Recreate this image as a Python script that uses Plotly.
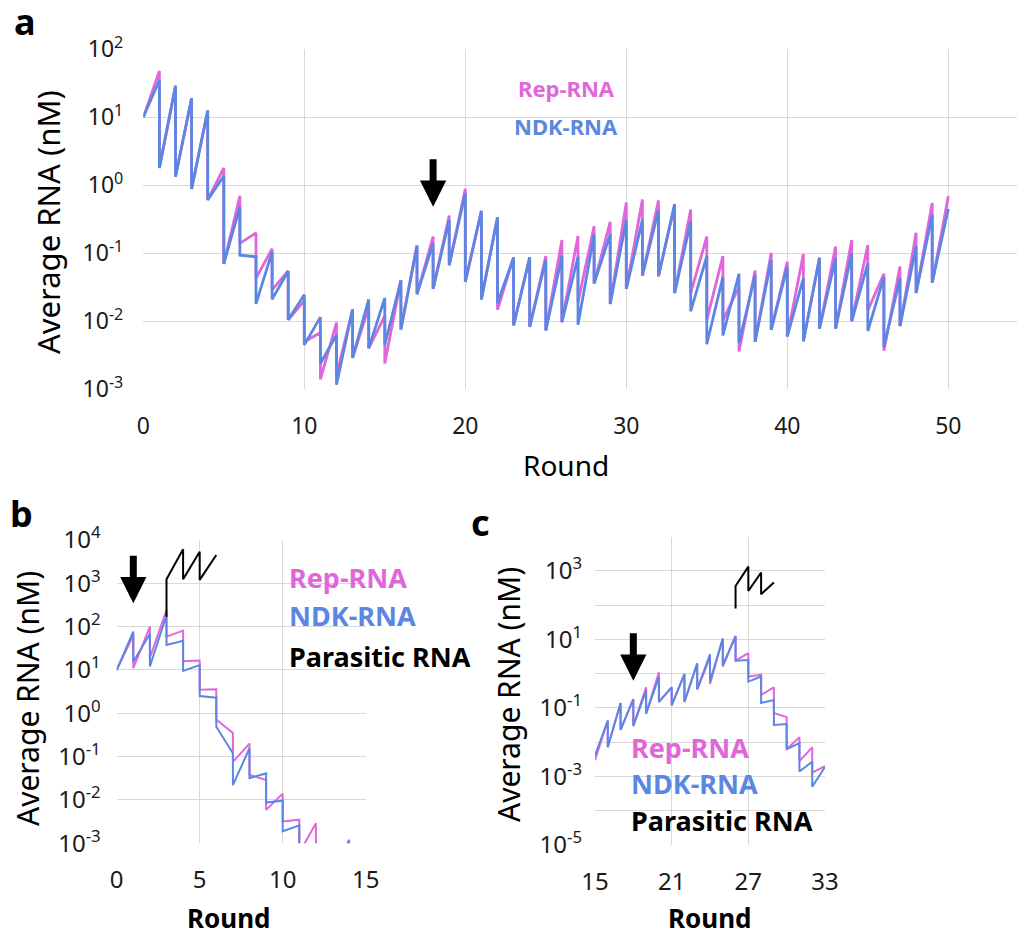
import plotly.graph_objects as go

# ---------------- data ----------------
# Panel a: rounds 1..50, value at end of round (peak) and after dilution (drop)
a_start = 10
a_rounds = list(range(1, 51))
a_rep_peak = [48, 29, 19, 12.6, 1.8, 0.70, 0.2, 0.117, 0.055, 0.02,
              0.0068, 0.0096, 0.015, 0.016, 0.012, 0.04, 0.13, 0.176, 0.36, 0.89,
              0.42, 0.34, 0.087, 0.087, 0.091, 0.157, 0.18, 0.25, 0.29, 0.56,
              0.62, 0.6, 0.51, 0.44, 0.176, 0.091, 0.032, 0.056, 0.102, 0.075,
              0.098, 0.087, 0.126, 0.157, 0.132, 0.05, 0.064, 0.2, 0.55, 0.69]
a_rep_drop = [1.8, 1.34, 0.88, 0.61, 0.07, 0.14, 0.043, 0.029, 0.0105, 0.005,
              0.0014, 0.0016, 0.0029, 0.004, 0.0024, 0.0076, 0.025, 0.03, 0.067, 0.038,
              0.021, 0.0148, 0.0087, 0.0083, 0.0073, 0.0097, 0.019, 0.036, 0.018, 0.03,
              0.047, 0.046, 0.026, 0.026, 0.0105, 0.0103, 0.0036, 0.005, 0.0075, 0.006,
              0.0051, 0.0078, 0.0078, 0.01, 0.0145, 0.0037, 0.0085, 0.026, 0.037]
a_ndk_peak = [35, 29, 19, 12.6, 1.37, 0.48, 0.089, 0.105, 0.055, 0.0245,
              0.0115, 0.0063, 0.015, 0.021, 0.022, 0.04, 0.13, 0.14, 0.31, 0.77,
              0.42, 0.34, 0.087, 0.087, 0.08, 0.091, 0.089, 0.19, 0.19, 0.31,
              0.31, 0.43, 0.53, 0.29, 0.091, 0.045, 0.05, 0.048, 0.08, 0.063,
              0.043, 0.085, 0.085, 0.1, 0.071, 0.045, 0.043, 0.126, 0.37, 0.45]
a_ndk_drop = [1.8, 1.34, 0.88, 0.61, 0.07, 0.094, 0.018, 0.021, 0.0105, 0.0045,
              0.0024, 0.00117, 0.0029, 0.004, 0.0045, 0.0076, 0.025, 0.03, 0.067, 0.038,
              0.021, 0.0186, 0.0087, 0.0083, 0.0073, 0.0097, 0.0089, 0.036, 0.018, 0.03,
              0.047, 0.046, 0.026, 0.014, 0.0046, 0.0062, 0.0048, 0.005, 0.0075, 0.006,
              0.0051, 0.0078, 0.0078, 0.01, 0.0072, 0.0042, 0.0085, 0.026, 0.037]

# Panel b
b_start = 10
b_rep_rounds = list(range(1, 13))
b_rep_peak = [63, 100, 240, 81, 16.5, 3.6, 0.35, 0.2, 0.029, 0.014, 0.0035, 0.0029]
b_rep_drop = [11, 19, 59, 16, 3.5, 0.72, 0.076, 0.038, 0.0059, 0.0032, 0.0006, 0.0002]
b_ndk_rounds = list(range(1, 15))
b_ndk_peak = [77, 68, 185, 47, 13, 2.3, 0.12, 0.156, 0.041, 0.0096, 0.0026, 0.0002, 0.0003, 0.0012]
b_ndk_drop = [15.5, 12, 38, 9.5, 2.5, 0.49, 0.022, 0.032, 0.0087, 0.0019, 0.0002, 0.0001, 0.0002, 0.0002]
b_para_rounds = [3, 3, 4, 4, 5, 5, 6]
b_para_values = [170, 1240, 6100, 1240, 5370, 1200, 4500]

# Panel c
c_first_round = 15
c_rep_start = 0.003
c_ndk_start = 0.0041
c_rounds = list(range(16, 34))
c_rep_peak = [0.043, 0.14, 0.18, 0.4, 1.1, 0.4, 0.98, 2.0, 3.0, 10.7, 12.6, 4.0, 0.93, 0.4, 0.054, 0.014, 0.0071, 0.002]
c_rep_drop = [0.0071, 0.023, 0.03, 0.068, 0.15, 0.12, 0.15, 0.35, 0.5, 1.6, 2.4, 0.83, 0.24, 0.071, 0.0063, 0.0028, 0.0013]
c_ndk_peak = [0.043, 0.14, 0.18, 0.32, 0.8, 0.4, 0.98, 2.0, 3.7, 10.7, 12.6, 2.5, 0.83, 0.17, 0.034, 0.0094, 0.0027, 0.0019]
c_ndk_drop = [0.0071, 0.023, 0.03, 0.068, 0.15, 0.12, 0.15, 0.35, 0.59, 1.78, 2.4, 0.59, 0.14, 0.032, 0.0063, 0.0014, 0.0005]
c_para_rounds = [26, 26, 27, 27, 28, 28, 29]
c_para_values = [80, 365, 1340, 260, 900, 210, 460]

a_xticks = [0, 10, 20, 30, 40, 50]
b_xticks = [0, 5, 10, 15]
c_xticks = [15, 21, 27, 33]

PINK = "#E066DA"
BLUE = "#5B86E2"
GRID = "#D9D9D9"
FONT = "Noto Sans"


def sawtooth(start_round, start_val, rounds, peaks, drops):
    xs, ys = [start_round], [start_val]
    for i, r in enumerate(rounds):
        xs.append(r)
        ys.append(peaks[i])
        if i < len(drops):
            xs.append(r)
            ys.append(drops[i])
    return xs, ys


fig = go.Figure()

# panel a
x, y = sawtooth(0, a_start, a_rounds, a_rep_peak, a_rep_drop)
fig.add_trace(go.Scatter(x=x, y=y, mode="lines", line=dict(color=PINK, width=2.8), xaxis="x", yaxis="y"))
x, y = sawtooth(0, a_start, a_rounds, a_ndk_peak, a_ndk_drop)
fig.add_trace(go.Scatter(x=x, y=y, mode="lines", line=dict(color=BLUE, width=2.8), xaxis="x", yaxis="y"))

# panel b
x, y = sawtooth(0, b_start, b_rep_rounds, b_rep_peak, b_rep_drop)
fig.add_trace(go.Scatter(x=x, y=y, mode="lines", line=dict(color=PINK, width=2), xaxis="x2", yaxis="y2"))
x, y = sawtooth(0, b_start, b_ndk_rounds, b_ndk_peak, b_ndk_drop)
fig.add_trace(go.Scatter(x=x, y=y, mode="lines", line=dict(color=BLUE, width=2), xaxis="x2", yaxis="y2"))
fig.add_trace(go.Scatter(x=b_para_rounds, y=b_para_values, mode="lines", line=dict(color="black", width=2), xaxis="x2", yaxis="y2"))

# panel c
x, y = sawtooth(c_first_round, c_rep_start, c_rounds, c_rep_peak, c_rep_drop)
fig.add_trace(go.Scatter(x=x, y=y, mode="lines", line=dict(color=PINK, width=2), xaxis="x3", yaxis="y3"))
x, y = sawtooth(c_first_round, c_ndk_start, c_rounds, c_ndk_peak, c_ndk_drop)
fig.add_trace(go.Scatter(x=x, y=y, mode="lines", line=dict(color=BLUE, width=2), xaxis="x3", yaxis="y3"))
fig.add_trace(go.Scatter(x=c_para_rounds, y=c_para_values, mode="lines", line=dict(color="black", width=2), xaxis="x3", yaxis="y3"))


def pow_label(e, show=True):
    return f"10<sup>{e}</sup>" if show else ""


a_exps = list(range(-3, 3))
b_exps = list(range(-3, 5))
c_exps = list(range(-5, 5))

# the page body adds an 8px offset; figure placed so page pixels match the target
OFF = 8
W, H = 1025 - OFF, 936 - OFF


def xd(p0, p1):
    return [(p0 - OFF) / W, (p1 - OFF) / W]


def yd(top, bottom):
    return [1 - (bottom - OFF) / H, 1 - (top - OFF) / H]


common = dict(showgrid=True, gridcolor=GRID, gridwidth=1.3, zeroline=False, showline=False,
              ticks="", color="#1a1a1a", automargin=False)

fig.update_layout(
    width=W, height=H, margin=dict(l=0, r=0, t=0, b=0, pad=0, autoexpand=False),
    paper_bgcolor="white", plot_bgcolor="white", showlegend=False,
    font=dict(family=FONT, color="#1a1a1a"),
    xaxis=dict(domain=xd(143.3, 1024), range=[0, (1024 - 143.3) / 16.1], anchor="y",
               tickvals=a_xticks, tickfont=dict(size=23), ticklabelstandoff=21, **common),
    yaxis=dict(domain=yd(49.3, 389.3), type="log", range=[-3, 2], anchor="x",
               tickvals=[10 ** e for e in a_exps], ticktext=[pow_label(e) for e in a_exps],
               tickfont=dict(size=23), ticklabelstandoff=19, **common),
    xaxis2=dict(domain=xd(116.7, 365.7), range=[0, 15], anchor="y2",
                tickvals=b_xticks, tickfont=dict(size=24), ticklabelstandoff=20, **common),
    yaxis2=dict(domain=yd(540, 843.3), type="log", range=[-3, 4], anchor="x2",
                tickvals=[10 ** e for e in b_exps], ticktext=[pow_label(e) for e in b_exps],
                tickfont=dict(size=24), ticklabelstandoff=15, **common),
    xaxis3=dict(domain=xd(595, 825), range=[15, 33], anchor="y3",
                tickvals=c_xticks, tickfont=dict(size=24), ticklabelstandoff=20, **common),
    yaxis3=dict(domain=yd(536.7, 845), type="log", range=[-5, 4], anchor="x3",
                tickvals=[10 ** e for e in c_exps],
                ticktext=[pow_label(e, e % 2 != 0 and e < 4) for e in c_exps],
                tickfont=dict(size=24), ticklabelstandoff=12, **common),
)

ann = []


def txt(x, y, s, size, color="black", bold=False, xanchor="center", angle=0):
    ann.append(dict(xref="paper", yref="paper", x=(x - OFF) / W, y=1 - (y - OFF) / H,
                    text=(f"<b>{s}</b>" if bold else s),
                    showarrow=False, xanchor=xanchor, yanchor="middle", textangle=angle,
                    font=dict(size=size, color=color, family=FONT)))


# panel letters
txt(25, 22, "a", 36, bold=True)
txt(21, 513, "b", 36, bold=True)
txt(480, 522, "c", 36, bold=True)

# axis titles
txt(48, 222, "Average RNA (nM)", 31, angle=-90)
txt(566, 465, "Round", 28)
txt(27, 699, "Average RNA (nM)", 30, angle=-90)
txt(229, 918, "<b>Round</b>", 26)
txt(508, 695, "Average RNA (nM)", 30, angle=-90)
txt(710, 918, "<b>Round</b>", 26)

# legends (text)
txt(566, 88, "Rep-RNA", 22, PINK, bold=True)
txt(566, 126, "NDK-RNA", 22, BLUE, bold=True)
txt(287, 577, "Rep-RNA", 27, PINK, bold=True, xanchor="left")
txt(287, 615, "NDK-RNA", 27, BLUE, bold=True, xanchor="left")
txt(287, 656, "Parasitic RNA", 27, "black", bold=True, xanchor="left")
txt(629, 747, "Rep-RNA", 27, PINK, bold=True, xanchor="left")
txt(629, 783, "NDK-RNA", 27, BLUE, bold=True, xanchor="left")
txt(629, 820, "Parasitic RNA", 27, "black", bold=True, xanchor="left")

# arrows marking rounds
arrow = dict(showarrow=True, arrowhead=2, arrowsize=0.75, arrowwidth=7, arrowcolor="black",
             text="", ax=0, ay=-49, standoff=0)
ann.append(dict(xref="x", yref="y", x=18, y=-0.315, **arrow))
ann.append(dict(xref="x2", yref="y2", x=1, y=4 - (603.3 - 540) / 43.33, **arrow))
ann.append(dict(xref="x3", yref="y3", x=18, y=3 - (681.7 - 571.7) / 34.3, **arrow))

fig.update_layout(annotations=ann)
fig.write_html("out.html")
